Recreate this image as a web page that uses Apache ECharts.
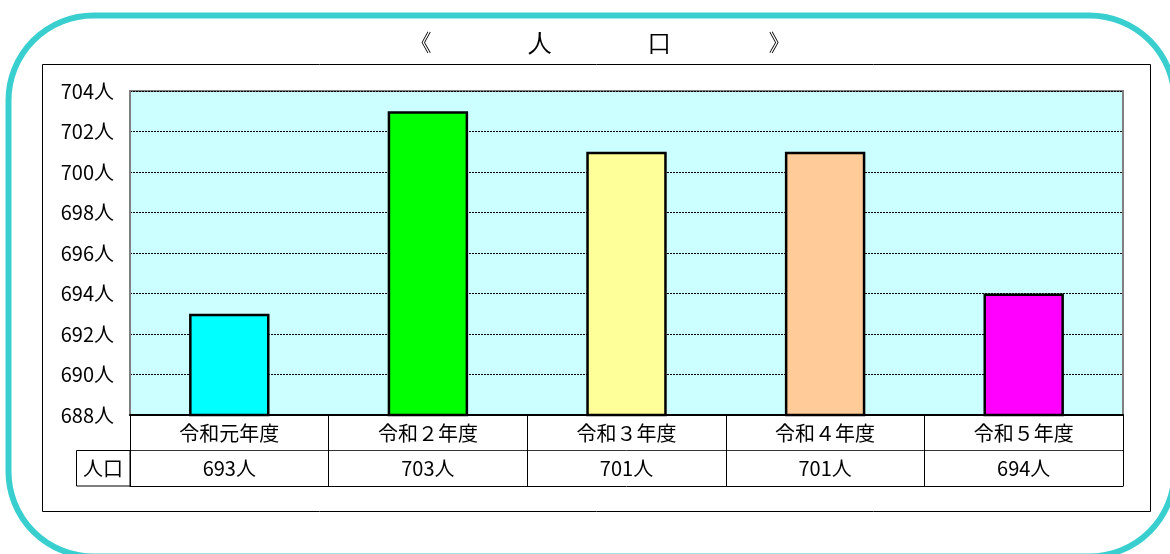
<!DOCTYPE html>
<html>
<head>
<meta charset="utf-8">
<script src="https://cdn.jsdelivr.net/npm/echarts@6/dist/echarts.min.js"></script>
<style>
html,body{margin:0;padding:0;background:#fff;}
#c{width:1170px;height:554px;}
</style>
</head>
<body>
<div id="c"></div>
<script>
var categories = ['令和元年度', '令和２年度', '令和３年度', '令和４年度', '令和５年度'];
var population = [693, 703, 701, 701, 694];
var barColors = ['#00FFFF', '#00FF00', '#FFFF99', '#FFCC99', '#FF00FF'];
var yTicks = { min: 688, max: 704, interval: 2 };
var titleText = '《　　　　人　　　　口　　　　》';
var tableRowLabel = '人口';

var font = '"Noto Sans CJK JP", "Noto Sans", sans-serif';
var chart = echarts.init(document.getElementById('c'));
chart.setOption({
  animation: false,
  backgroundColor: '#ffffff',
  title: {
    text: titleText, left: 595, top: 28, textAlign: 'center',
    textStyle: { fontSize: 23.6, fontWeight: 'normal', color: '#000', fontFamily: 'serif' }
  },
  grid: {
    left: 130, right: 47, top: 91, bottom: 139,
    show: true, backgroundColor: '#CCFFFF', borderColor: '#808080', borderWidth: 2
  },
  xAxis: [
    {
      type: 'category', data: categories, position: 'bottom', boundaryGap: true,
      axisLine: { show: true, lineStyle: { color: '#000', width: 2 } },
      axisTick: { show: true, length: 71, lineStyle: { color: '#000', width: 1 } },
      axisLabel: { margin: 8, fontSize: 20, color: '#000', fontFamily: font }
    },
    {
      type: 'category', data: categories, position: 'bottom', offset: 35,
      axisLine: { show: true, lineStyle: { color: '#333', width: 1 } },
      axisTick: { show: false },
      axisLabel: {
        margin: 8, fontSize: 20, color: '#000', fontFamily: font,
        formatter: function (v, i) { return population[i] + '人'; }
      }
    },
    {
      type: 'category', data: categories, position: 'bottom', offset: 71,
      axisLine: { show: true, lineStyle: { color: '#000', width: 1 } },
      axisTick: { show: false }, axisLabel: { show: false }
    }
  ],
  yAxis: {
    type: 'value', min: yTicks.min, max: yTicks.max, interval: yTicks.interval,
    axisLine: { show: true, lineStyle: { color: '#808080', width: 2 } },
    axisTick: { show: false },
    axisLabel: { margin: 16, fontSize: 20, color: '#000', fontFamily: font, formatter: '{value}人' },
    splitLine: { show: true, lineStyle: { color: '#000', type: [2, 1], width: 1 } }
  },
  series: [{
    type: 'bar', data: population.map(function (v, i) {
      return { value: v, itemStyle: { color: barColors[i] } };
    }),
    barWidth: '40.5%',
    itemStyle: { borderColor: '#000', borderWidth: 2.5 },
    z: 3
  }],
  graphic: [
    { type: 'rect', shape: { x: 8.5, y: 15.5, width: 1166, height: 541, r: 85 },
      style: { fill: 'none', stroke: '#3ACFCF', lineWidth: 6 }, z: 100 },
    { type: 'rect', shape: { x: 42.5, y: 64.5, width: 1108, height: 447 },
      style: { fill: 'none', stroke: '#000', lineWidth: 1 }, z: -10 },
    { type: 'rect', shape: { x: 76.5, y: 450.5, width: 53.5, height: 35.5 },
      style: { fill: 'none', stroke: '#000', lineWidth: 1 }, z: 50 },
    { type: 'text', x: 103, y: 468,
      style: { text: tableRowLabel, fontSize: 20, fill: '#000', fontFamily: font, textAlign: 'center', textVerticalAlign: 'middle' }, z: 50 }
  ]
});
</script>
</body>
</html>
